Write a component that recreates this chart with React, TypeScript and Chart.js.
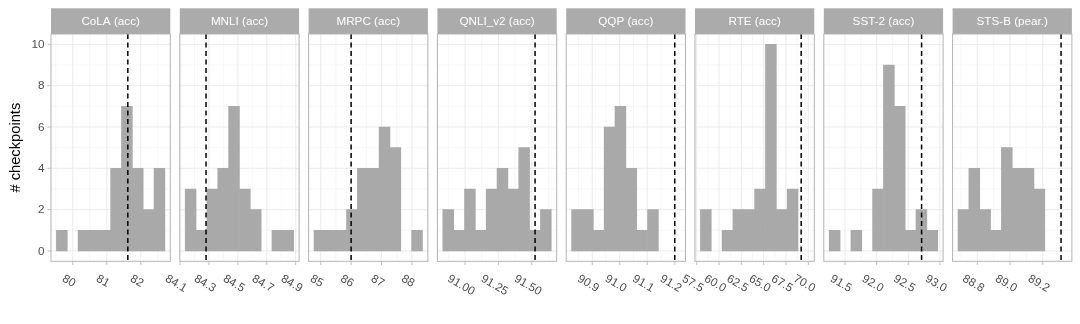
import React, { useEffect, useRef } from "react";
import { Chart, registerables } from "chart.js";

Chart.register(...registerables);

// ---------------- data ----------------
const panelTitles = [
  "CoLA (acc)",
  "MNLI (acc)",
  "MRPC (acc)",
  "QNLI_v2 (acc)",
  "QQP (acc)",
  "RTE (acc)",
  "SST-2 (acc)",
  "STS-B (pear.)",
];

// left edge of the first histogram bin and the bin width, per panel
const binStarts = [79.52, 84.136, 84.78, 90.833, 90.825, 57.917, 91.251, 88.682];
const binWidths = [0.319, 0.075, 0.3567, 0.08136, 0.03944, 1.2145, 0.1713, 0.06633];

// number of checkpoints in each of the 10 bins
const colaCounts = [1, 0, 1, 1, 1, 4, 7, 4, 2, 4];
const mnliCounts = [3, 1, 3, 4, 7, 3, 2, 0, 1, 1];
const mrpcCounts = [1, 1, 1, 2, 4, 4, 6, 5, 0, 1];
const qnliCounts = [2, 1, 3, 1, 3, 4, 3, 5, 1, 2];
const qqpCounts = [2, 2, 1, 6, 7, 4, 1, 2, 0, 0];
const rteCounts = [2, 0, 1, 2, 2, 3, 10, 2, 3, 0];
const sst2Counts = [1, 0, 1, 0, 3, 9, 7, 1, 2, 1];
const stsbCounts = [2, 4, 2, 1, 5, 4, 4, 3, 0, 0];
const countsByPanel = [colaCounts, mnliCounts, mrpcCounts, qnliCounts, qqpCounts, rteCounts, sst2Counts, stsbCounts];

// dashed reference line per panel
const refLines = [81.62, 84.28, 86.0, 91.525, 91.2, 69.2, 92.71, 89.312];

// x tick values and labels
const tickValues = [
  [80, 81, 82],
  [84.1, 84.3, 84.5, 84.7, 84.9],
  [85, 86, 87, 88],
  [91.0, 91.25, 91.5],
  [90.9, 91.0, 91.1, 91.2],
  [57.5, 60.0, 62.5, 65.0, 67.5, 70.0],
  [91.5, 92.0, 92.5, 93.0],
  [88.8, 89.0, 89.2],
];
const tickLabels = [
  ["80", "81", "82"],
  ["84.1", "84.3", "84.5", "84.7", "84.9"],
  ["85", "86", "87", "88"],
  ["91.00", "91.25", "91.50"],
  ["90.9", "91.0", "91.1", "91.2"],
  ["57.5", "60.0", "62.5", "65.0", "67.5", "70.0"],
  ["91.5", "92.0", "92.5", "93.0"],
  ["88.8", "89.0", "89.2"],
];
const yTicks = [0, 2, 4, 6, 8, 10];
const yTitle = "# checkpoints";

// ---------------- layout & style ----------------
const PANEL_LEFT0 = 51;
const PANEL_STEP = 128.8;
const PANEL_W = 119.3;
const PANEL_TOP = 34;
const PANEL_BOTTOM = 261.3;
const STRIP_TOP = 8.3;
const CANVAS_H = 324;
const FONT = "'Liberation Sans', Arial, Helvetica, sans-serif";
const BAR = "#a9a9a9";
const STRIP = "#ababab";
const BORDER = "#b3b3b3";
const GRID = "#e6e6e6";
const GRID_MINOR = "#efefef";
const TEXT = "#4d4d4d";

function makePlugin(index: number) {
  return {
    id: "facet" + index,
    beforeDatasetsDraw(chart: any) {
      const ctx = chart.ctx;
      const { left, right, top, bottom } = chart.chartArea;
      const xs = chart.scales.x;
      const ys = chart.scales.y;
      // strip
      ctx.save();
      ctx.fillStyle = STRIP;
      ctx.fillRect(left, STRIP_TOP, right - left, top - STRIP_TOP);
      ctx.fillStyle = "#ffffff";
      ctx.font = `11.7px ${FONT}`;
      ctx.textAlign = "center";
      ctx.textBaseline = "middle";
      ctx.fillText(panelTitles[index], (left + right) / 2, (STRIP_TOP + top) / 2 + 0.5);
      // grid
      ctx.beginPath();
      ctx.rect(left, top, right - left, bottom - top);
      ctx.clip();
      const tv = tickValues[index];
      const step = tv[1] - tv[0];
      const minors: number[] = [];
      minors.push(tv[0] - step / 2);
      for (let i = 0; i < tv.length - 1; i++) minors.push((tv[i] + tv[i + 1]) / 2);
      minors.push(tv[tv.length - 1] + step / 2);
      ctx.strokeStyle = GRID_MINOR;
      ctx.lineWidth = 0.5;
      for (const m of minors) {
        const p = xs.getPixelForValue(m);
        ctx.beginPath();
        ctx.moveTo(p, top);
        ctx.lineTo(p, bottom);
        ctx.stroke();
      }
      for (let v = 1; v <= 9; v += 2) {
        const p = ys.getPixelForValue(v);
        ctx.beginPath();
        ctx.moveTo(left, p);
        ctx.lineTo(right, p);
        ctx.stroke();
      }
      ctx.strokeStyle = GRID;
      ctx.lineWidth = 0.8;
      for (const v of tv) {
        const p = xs.getPixelForValue(v);
        ctx.beginPath();
        ctx.moveTo(p, top);
        ctx.lineTo(p, bottom);
        ctx.stroke();
      }
      for (const v of yTicks) {
        const p = ys.getPixelForValue(v);
        ctx.beginPath();
        ctx.moveTo(left, p);
        ctx.lineTo(right, p);
        ctx.stroke();
      }
      ctx.restore();
    },
    afterDatasetsDraw(chart: any) {
      const ctx = chart.ctx;
      const { left, right, top, bottom } = chart.chartArea;
      const xs = chart.scales.x;
      const ys = chart.scales.y;
      ctx.save();
      // dashed reference line
      ctx.save();
      ctx.beginPath();
      ctx.rect(left, top, right - left, bottom - top);
      ctx.clip();
      const vx = xs.getPixelForValue(refLines[index]);
      ctx.strokeStyle = "#000000";
      ctx.lineWidth = 1.5;
      ctx.setLineDash([5, 3.5]);
      ctx.beginPath();
      ctx.moveTo(vx, top);
      ctx.lineTo(vx, bottom);
      ctx.stroke();
      ctx.restore();
      // border
      ctx.strokeStyle = BORDER;
      ctx.lineWidth = 1;
      ctx.strokeRect(left, top, right - left, bottom - top);
      // x ticks + labels
      ctx.font = `11.7px ${FONT}`;
      ctx.fillStyle = TEXT;
      ctx.textAlign = "center";
      ctx.textBaseline = "middle";
      tickValues[index].forEach((v, i) => {
        const p = xs.getPixelForValue(v);
        ctx.strokeStyle = BORDER;
        ctx.lineWidth = 0.8;
        ctx.beginPath();
        ctx.moveTo(p, bottom);
        ctx.lineTo(p, bottom + 3.7);
        ctx.stroke();
        const label = tickLabels[index][i];
        const tw = ctx.measureText(label).width;
        ctx.save();
        ctx.translate(p - 4, 278 + tw / 4);
        ctx.rotate(Math.PI / 6);
        ctx.fillText(label, 0, 0);
        ctx.restore();
      });
      if (index === 0) {
        ctx.textAlign = "right";
        yTicks.forEach((v) => {
          const p = ys.getPixelForValue(v);
          ctx.strokeStyle = BORDER;
          ctx.lineWidth = 0.8;
          ctx.beginPath();
          ctx.moveTo(left - 3.7, p);
          ctx.lineTo(left, p);
          ctx.stroke();
          ctx.fillText(String(v), left - 6.6, p + 0.5);
        });
        ctx.save();
        ctx.translate(15.5, (top + bottom) / 2);
        ctx.rotate(-Math.PI / 2);
        ctx.textAlign = "center";
        ctx.fillStyle = "#000000";
        ctx.font = `14.7px ${FONT}`;
        ctx.fillText(yTitle, 0, 0);
        ctx.restore();
      }
      ctx.restore();
    },
  };
}

function Panel({ index }: { index: number }) {
  const ref = useRef<HTMLCanvasElement>(null);
  const pl = PANEL_LEFT0 + index * PANEL_STEP;
  const canvasLeft = index === 0 ? 0 : Math.floor(pl) - 40;
  const canvasRight = Math.min(1080, Math.ceil(pl + PANEL_W) + 40);
  const cw = canvasRight - canvasLeft;

  useEffect(() => {
    if (!ref.current) return;
    const start = binStarts[index];
    const w = binWidths[index];
    const counts = countsByPanel[index];
    const data = counts.map((c, i) => ({ x: start + (i + 0.5) * w, y: c }));
    const chart = new Chart(ref.current, {
      type: "bar",
      data: {
        datasets: [
          {
            data,
            backgroundColor: (c: any) => (c.raw && c.raw.y === 0 ? "rgba(0,0,0,0)" : BAR),
            borderWidth: 0,
            barPercentage: 1,
            categoryPercentage: 1,
          } as any,
        ],
      },
      options: {
        animation: false,
        responsive: false,
        devicePixelRatio: 1,
        events: [],
        layout: {
          padding: {
            left: pl - canvasLeft,
            right: canvasRight - (pl + PANEL_W),
            top: PANEL_TOP,
            bottom: CANVAS_H - PANEL_BOTTOM,
          },
        },
        plugins: {
          legend: { display: false },
          tooltip: { enabled: false },
          title: { display: false },
        },
        scales: {
          x: {
            type: "linear",
            display: false,
            offset: false,
            grid: { offset: false },
            min: start - 0.5 * w,
            max: start + 10.5 * w,
            afterBuildTicks: (s: any) => {
              s.ticks = tickValues[index].map((v) => ({ value: v }));
            },
          },
          y: {
            type: "linear",
            display: false,
            min: -0.5,
            max: 10.5,
            afterBuildTicks: (s: any) => {
              s.ticks = yTicks.map((v) => ({ value: v }));
            },
          },
        },
      } as any,
      plugins: [makePlugin(index)],
    });
    return () => chart.destroy();
  }, []);

  return (
    <canvas
      ref={ref}
      width={cw}
      height={CANVAS_H}
      style={{ position: "absolute", left: canvasLeft, top: 0, width: cw, height: CANVAS_H }}
    />
  );
}

export default function App() {
  return (
    <div
      style={{
        position: "fixed",
        left: 0,
        top: 0,
        width: 1080,
        height: CANVAS_H,
        background: "#ffffff",
        overflow: "hidden",
      }}
    >
      {panelTitles.map((_, i) => (
        <Panel key={i} index={i} />
      ))}
    </div>
  );
}
